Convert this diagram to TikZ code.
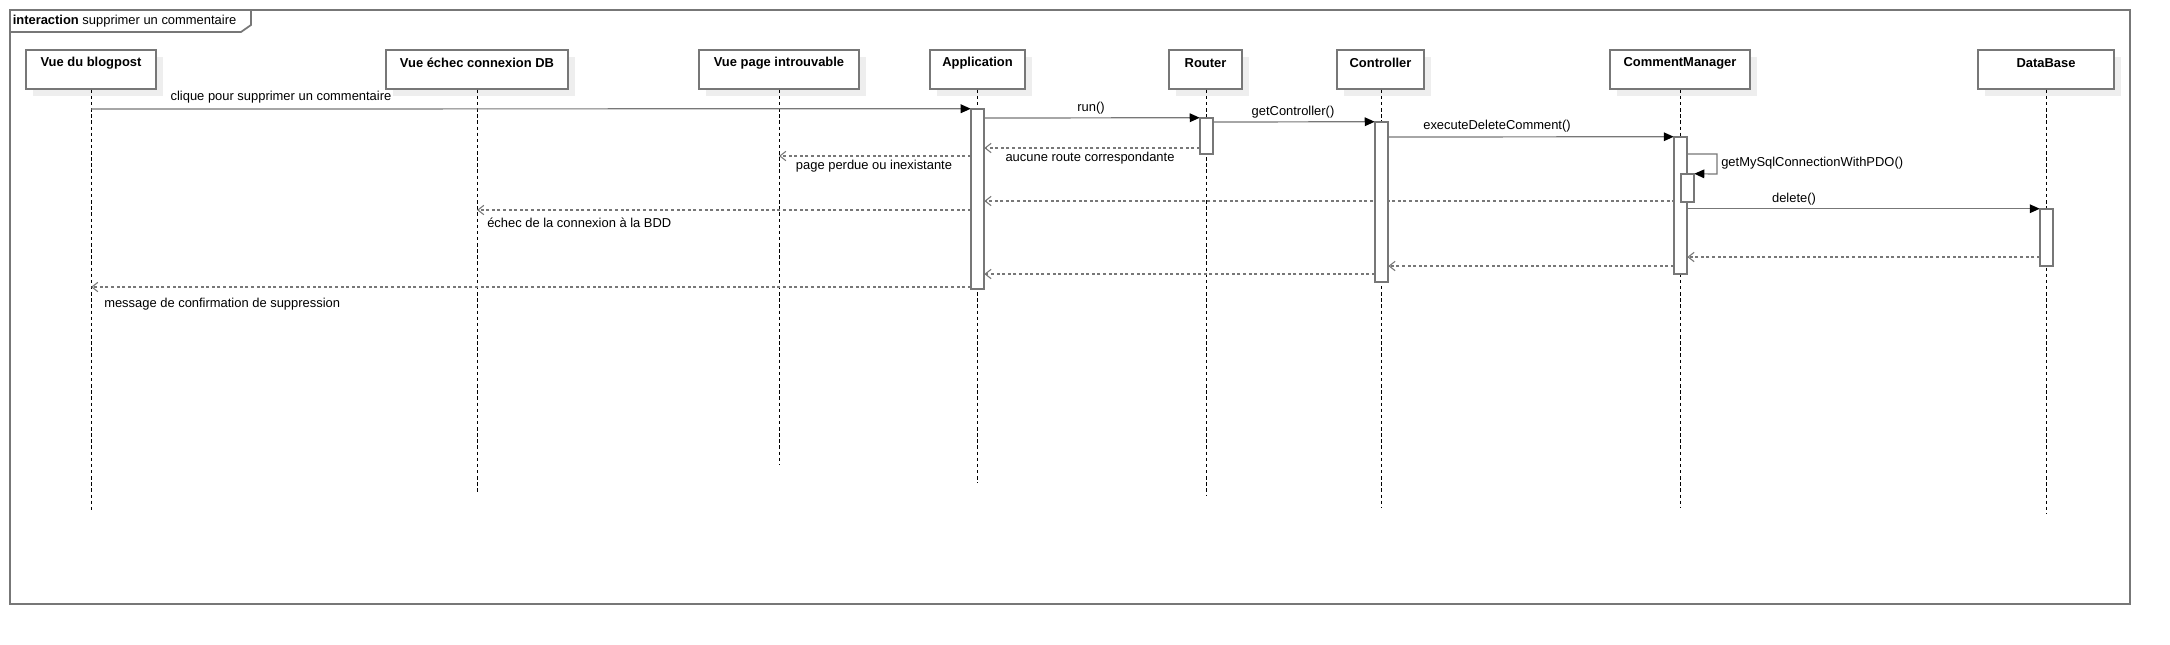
\documentclass[tikz,border=0pt]{standalone}
\usepackage{fontspec}
\setmainfont{Liberation Sans}
\usetikzlibrary{arrows.meta,fit}
\definecolor{lc}{HTML}{777777}
\definecolor{shc}{HTML}{EEEEEE}
\begin{document}
\begin{tikzpicture}[x=0.75pt,y=-0.75pt,
  font=\fontsize{9.7}{11.6}\selectfont,
  lbl/.style={inner sep=0pt, text=black},
  hdr/.style={inner sep=0pt, text=black, font=\fontsize{9.7}{11.6}\selectfont\bfseries},
  box/.style={draw=lc, line width=1.1pt, fill=white, inner sep=0pt},
  shd/.style={fill=shc, draw=none, inner sep=0pt},
  act/.style={draw=lc, line width=1pt, fill=white, inner sep=0pt},
  life/.style={black, line width=0.55pt, dash pattern=on 2.6pt off 2pt},
  call/.style={draw=lc, line width=0.9pt, -{Triangle[length=7.5pt,width=6.5pt,color=black]}},
  ret/.style={draw=lc, line width=0.8pt, dash pattern=on 2.2pt off 2pt, -{Straight Barb[length=4.5pt,width=7pt,color=lc]}},
  frm/.style={draw=lc, line width=1.3pt}
]
\useasboundingbox (0,0) rectangle (2170,644);
% frame
\draw[frm] (10,10) rectangle (2130,604);
\draw[frm] (10,32) -- (241,32) -- (251,25) -- (251,10);
\node[lbl, anchor=west] (title) at (12.5,21) {\textbf{interaction} supprimer un commentaire};

% shadows
\node[shd, fit={(33,57)(163,96)}] (sblog) {};
\node[shd, fit={(393,57)(575,96)}] (sechec) {};
\node[shd, fit={(706,57)(866,96)}] (spage) {};
\node[shd, fit={(937,57)(1032,96)}] (sapp) {};
\node[shd, fit={(1176,57)(1249,96)}] (srouter) {};
\node[shd, fit={(1344,57)(1431,96)}] (sctrl) {};
\node[shd, fit={(1617,57)(1757,96)}] (scm) {};
\node[shd, fit={(1985,57)(2121,96)}] (sdb) {};

% header boxes
\node[box, fit={(26,50)(156,89)}] (blog) {};
\node[box, fit={(386,50)(568,89)}] (echec) {};
\node[box, fit={(699,50)(859,89)}] (page) {};
\node[box, fit={(930,50)(1025,89)}] (app) {};
\node[box, fit={(1169,50)(1242,89)}] (router) {};
\node[box, fit={(1337,50)(1424,89)}] (ctrl) {};
\node[box, fit={(1610,50)(1750,89)}] (cm) {};
\node[box, fit={(1978,50)(2114,89)}] (db) {};

\node[hdr] (hblog) at (91,63) {Vue du blogpost};
\node[hdr] (hechec) at (477,63) {Vue échec connexion DB};
\node[hdr] (hpage) at (779,63) {Vue page introuvable};
\node[hdr] (happ) at (977.5,63) {Application};
\node[hdr] (hrouter) at (1205.5,63) {Router};
\node[hdr] (hctrl) at (1380.5,63) {Controller};
\node[hdr] (hcm) at (1680,63) {CommentManager};
\node[hdr] (hdb) at (2046,63) {DataBase};

% lifeline ends
\coordinate (eblog) at (91,512);
\coordinate (eechec) at (477,493);
\coordinate (epage) at (779,465);
\coordinate (eapp) at (977.5,483);
\coordinate (erouter) at (1206.5,495);
\coordinate (ectrl) at (1381.5,507);
\coordinate (ecm) at (1680.5,507);
\coordinate (edb) at (2046.5,513);

\draw[life] (blog.south) -- (eblog);
\draw[life] (echec.south) -- (eechec);
\draw[life] (page.south) -- (epage);
\draw[life] (app.south) -- (eapp);
\draw[life] (router.south -| erouter) -- (erouter);
\draw[life] (ctrl.south -| ectrl) -- (ectrl);
\draw[life] (cm.south -| ecm) -- (ecm);
\draw[life] (db.south -| edb) -- (edb);

% activations (geometry only, drawn later on top)
\path (0,0);
\coordinate (selfA) at (1717,154);
\coordinate (selfB) at (1717,174);

% messages need activation nodes: define them first invisibly
\node[inner sep=0pt, fit={(971,109)(984,289)}] (aApp) {};
\node[inner sep=0pt, fit={(1200,118)(1213,154)}] (aRouter) {};
\node[inner sep=0pt, fit={(1375,122)(1388,282)}] (aCtrl) {};
\node[inner sep=0pt, fit={(1674,137)(1687,274)}] (aCM) {};
\node[inner sep=0pt, fit={(1681,174)(1694,202)}] (aCM2) {};
\node[inner sep=0pt, fit={(2040,209)(2053,266)}] (aDB) {};

% calls
\draw[call] (blog.south |- 0,109) -- (aApp.north west);
\draw[call] (aApp.east |- 0,118) -- (aRouter.north west);
\draw[call] (aRouter.east |- 0,122) -- (aCtrl.north west);
\draw[call] (aCtrl.east |- 0,137) -- (aCM.north west);
\draw[call] (aCM.east |- selfA) -- (selfA) -- (selfB) -- (aCM2.north east);
\draw[call] (aCM.east |- aDB.north) -- (aDB.north west);

% returns
\draw[ret] (aRouter.west |- 0,148) -- (aApp.east |- 0,148);
\draw[ret] (aApp.west |- 0,156) -- (page.south |- 0,156);
\draw[ret] (aCM2.west |- 0,201) -- (aApp.east |- 0,201);
\draw[ret] (aApp.west |- 0,210) -- (echec.south |- 0,210);
\draw[ret] (aDB.west |- 0,257) -- (aCM.east |- 0,257);
\draw[ret] (aCM.west |- 0,266) -- (aCtrl.east |- 0,266);
\draw[ret] (aCtrl.west |- 0,274) -- (aApp.east |- 0,274);
\draw[ret] (aApp.west |- 0,287) -- (blog.south |- 0,287);

% activation bars on top
\node[act, fit={(971,109)(984,289)}] (barApp) {};
\node[act, fit={(1200,118)(1213,154)}] (barRouter) {};
\node[act, fit={(1375,122)(1388,282)}] (barCtrl) {};
\node[act, fit={(1674,137)(1687,274)}] (barCM) {};
\node[act, fit={(1681,174)(1694,202)}] (barCM2) {};
\node[act, fit={(2040,209)(2053,266)}] (barDB) {};

% labels
\node[lbl] (t1) at (281,97) {clique pour supprimer un commentaire};
\node[lbl] (t2) at (1091,108) {run()};
\node[lbl] (t3) at (1293,112) {getController()};
\node[lbl] (t4) at (1497,126) {executeDeleteComment()};
\node[lbl, anchor=west] (t5) at (1721,163) {getMySqlConnectionWithPDO()};
\node[lbl] (t6) at (1090,158) {aucune route correspondante};
\node[lbl] (t7) at (874,166) {page perdue ou inexistante};
\node[lbl, anchor=west] (t8) at (487,223) {échec de la connexion à la BDD};
\node[lbl] (t9) at (1794,199) {delete()};
\node[lbl, anchor=west] (t10) at (104,304) {message de confirmation de suppression};
\end{tikzpicture}
\end{document}
